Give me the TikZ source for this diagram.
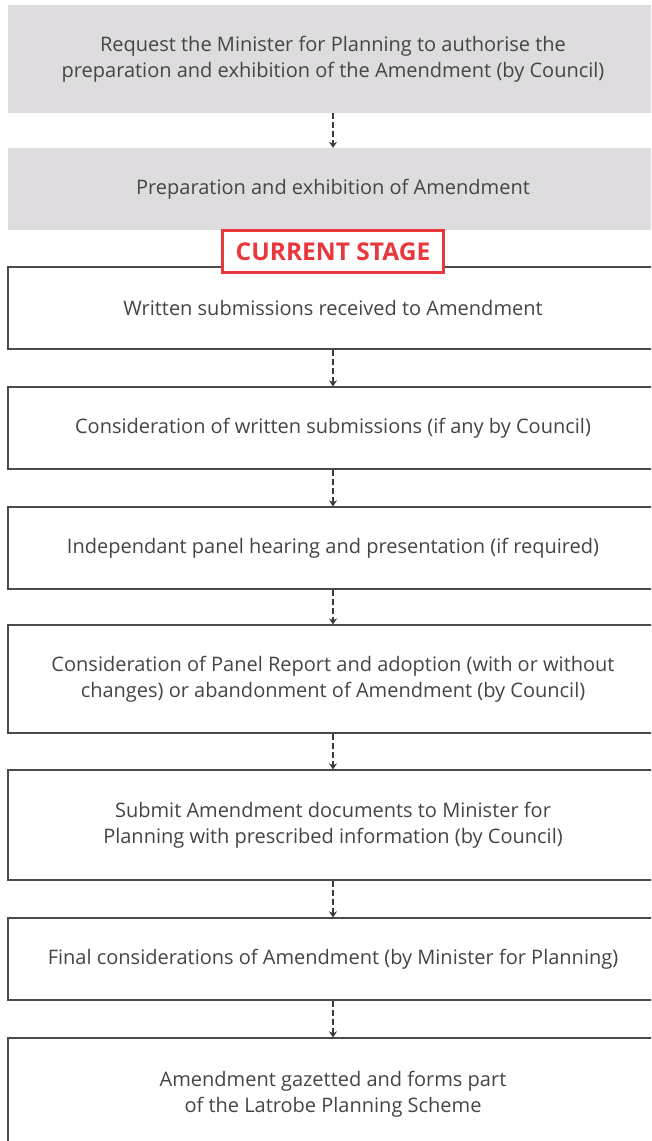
\documentclass[tikz,border=0pt]{standalone}
\usepackage{fontspec}
\setmainfont{Open Sans}
\usetikzlibrary{arrows.meta}
\definecolor{boxgray}{HTML}{DEDCDF}
\definecolor{textgray}{HTML}{454545}
\definecolor{linegray}{HTML}{4A4A4A}
\definecolor{stagered}{HTML}{E8383D}
\tikzset{
  stagebox/.style={rectangle,minimum width=650pt,inner sep=0pt,align=center,
    font=\fontsize{20}{26}\selectfont,text=textgray},
  graybox/.style={stagebox,fill=boxgray},
  openbox/.style={stagebox,draw=linegray,line width=1.2pt,fill=white},
  flow/.style={-{Stealth[length=6pt,width=8pt]},dash pattern=on 6pt off 3pt,
    line width=2pt,draw=linegray!80!black},
  currentmark/.style={rectangle,draw=stagered,line width=3pt,fill=white,
    minimum width=221pt,minimum height=42pt,text=stagered,
    font=\fontsize{24.5}{26}\selectfont\bfseries}
}
\begin{document}
\begin{tikzpicture}[x=1pt,y=1pt]
    \useasboundingbox (0,0) rectangle (651,1141);
    \clip (0,0) rectangle (651,1141);
    % gray stages already done
    \node[graybox,minimum height=108pt] (request) at (333,1082) {Request the Minister for Planning to authorise the\\preparation and exhibition of the Amendment (by Council)};
    \node[graybox,minimum height=82pt] (prepare) at (333,952) {Preparation and exhibition of Amendment};
    % remaining stages
    \node[openbox,minimum height=82pt] (written) at (333,833) {Written submissions received to Amendment};
    \node[openbox,minimum height=82pt] (consider) at (333,713) {Consideration of written submissions (if any by Council)};
    \node[openbox,minimum height=82pt] (panel) at (333,593) {Independant panel hearing and presentation (if required)};
    \node[openbox,minimum height=108pt] (report) at (333,462) {Consideration of Panel Report and adoption (with or without\\changes) or abandonment of Amendment (by Council)};
    \node[openbox,minimum height=110pt] (submit) at (333,316) {Submit Amendment documents to Minister for\\Planning with prescribed information (by Council)};
    \node[openbox,minimum height=82pt] (final) at (333,182) {Final considerations of Amendment (by Minister for Planning)};
    \node[openbox,minimum height=112pt] (gazette) at (333,47) {Amendment gazetted and forms part\\of the Latrobe Planning Scheme};
    % current stage marker
    \node[currentmark] (current) at (333,889.5) {CURRENT STAGE};
    % arrows
    \draw[flow] (request.south) -- (prepare.north);
    \draw[flow] (written.south) -- (consider.north);
    \draw[flow] (consider.south) -- (panel.north);
    \draw[flow] (panel.south) -- (report.north);
    \draw[flow] (report.south) -- (submit.north);
    \draw[flow] (submit.south) -- (final.north);
    \draw[flow] (final.south) -- (gazette.north);
\end{tikzpicture}
\end{document}
